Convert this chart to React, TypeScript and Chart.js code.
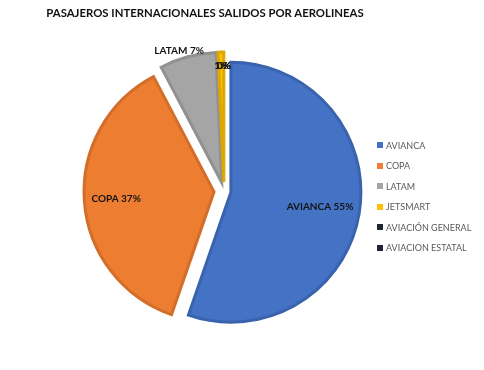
import React, { useEffect, useRef } from "react";
import { Chart, registerables } from "chart.js";

Chart.register(...registerables);

const categories = ["AVIANCA", "COPA", "LATAM", "JETSMART", "AVIACIÓN GENERAL", "AVIACION ESTATAL"];
const shares = [55.3, 37.0, 7.0, 0.7, 0, 0];
const titleText = "PASAJEROS INTERNACIONALES SALIDOS POR AEROLINEAS";

const fillColors = ["#4472C4", "#ED7D31", "#A5A5A5", "#FFC000", "#1F2633", "#1F2633"];
const edgeColors = ["#3A63AE", "#D26E2A", "#919191", "#DDA700", "#161B24", "#161B24"];
const explode = [7, 10, 9, 9, 9, 9];
const labelRadius = [0.695, 0.755, 1.047, 0.896, 0.896, 0.896];
const labelNudgeX = [0, 0, -7, 0, 0, 0];
const labelWithName = [true, true, true, false, false, false];

const FONT = "Lato, 'Open Sans', sans-serif";

const explodePlugin = {
  id: "explodeSlices",
  beforeDatasetDraw(chart: any, args: any) {
    const ctx = chart.ctx;
    args.meta.data.forEach((arc: any, i: number) => {
      const mid = (arc.startAngle + arc.endAngle) / 2;
      const d = explode[i] || 0;
      ctx.save();
      ctx.translate(Math.cos(mid) * d, Math.sin(mid) * d);
      arc.draw(ctx);
      ctx.restore();
    });
    return false;
  },
};

const labelPlugin = {
  id: "sliceLabels",
  afterDatasetsDraw(chart: any) {
    const ctx = chart.ctx;
    const meta = chart.getDatasetMeta(0);
    const total = shares.reduce((a, b) => a + b, 0);
    ctx.save();
    ctx.font = `bold 10px ${FONT}`;
    ctx.fillStyle = "#141414";
    ctx.textBaseline = "middle";
    ctx.textAlign = "center";
    meta.data.forEach((arc: any, i: number) => {
      const mid = (arc.startAngle + arc.endAngle) / 2;
      const d = explode[i] || 0;
      const cx = arc.x + Math.cos(mid) * d;
      const cy = arc.y + Math.sin(mid) * d;
      const r = arc.outerRadius * labelRadius[i];
      const x = cx + Math.cos(mid) * r + labelNudgeX[i];
      const y = cy + Math.sin(mid) * r;
      const pct = Math.round((shares[i] / total) * 100) + "%";
      const text = labelWithName[i] ? categories[i] + " " + pct : pct;
      ctx.fillText(text, x, y);
    });
    ctx.restore();
  },
};

export default function App() {
  const canvasRef = useRef<HTMLCanvasElement>(null);

  useEffect(() => {
    document.body.style.margin = "0";
    const chart = new Chart(canvasRef.current as HTMLCanvasElement, {
      type: "pie",
      data: {
        labels: categories,
        datasets: [
          {
            data: shares,
            backgroundColor: fillColors,
            borderColor: edgeColors,
            borderWidth: 3,
            borderJoinStyle: "miter",
          } as any,
        ],
      },
      options: {
        responsive: false,
        animation: false,
        radius: 130,
        layout: { padding: { left: 0, right: 36, top: 12, bottom: 0 } },
        plugins: {
          legend: { display: false },
          title: { display: false },
          tooltip: { enabled: false },
        },
      } as any,
      plugins: [explodePlugin, labelPlugin],
    });
    return () => chart.destroy();
  }, []);

  return (
    <div style={{ position: "relative", width: 484, height: 370, background: "#fff", fontFamily: FONT }}>
      <canvas ref={canvasRef} width={484} height={370} style={{ display: "block" }} />
      <div
        style={{
          position: "absolute",
          left: 0,
          width: 410,
          top: 6,
          textAlign: "center",
          fontWeight: 700,
          fontSize: 11.35,
          lineHeight: "14px",
          color: "#111111",
          whiteSpace: "nowrap",
        }}
      >
        {titleText}
      </div>
      <div style={{ position: "absolute", left: 377, top: 135, fontSize: 9, color: "#595959" }}>
        {categories.map((c, i) => (
          <div key={c} style={{ height: 20.5, display: "flex", alignItems: "center", whiteSpace: "nowrap" }}>
            <span style={{ width: 6, height: 6, background: fillColors[i], marginRight: 3, flex: "none" }} />
            <span>{c}</span>
          </div>
        ))}
      </div>
    </div>
  );
}
